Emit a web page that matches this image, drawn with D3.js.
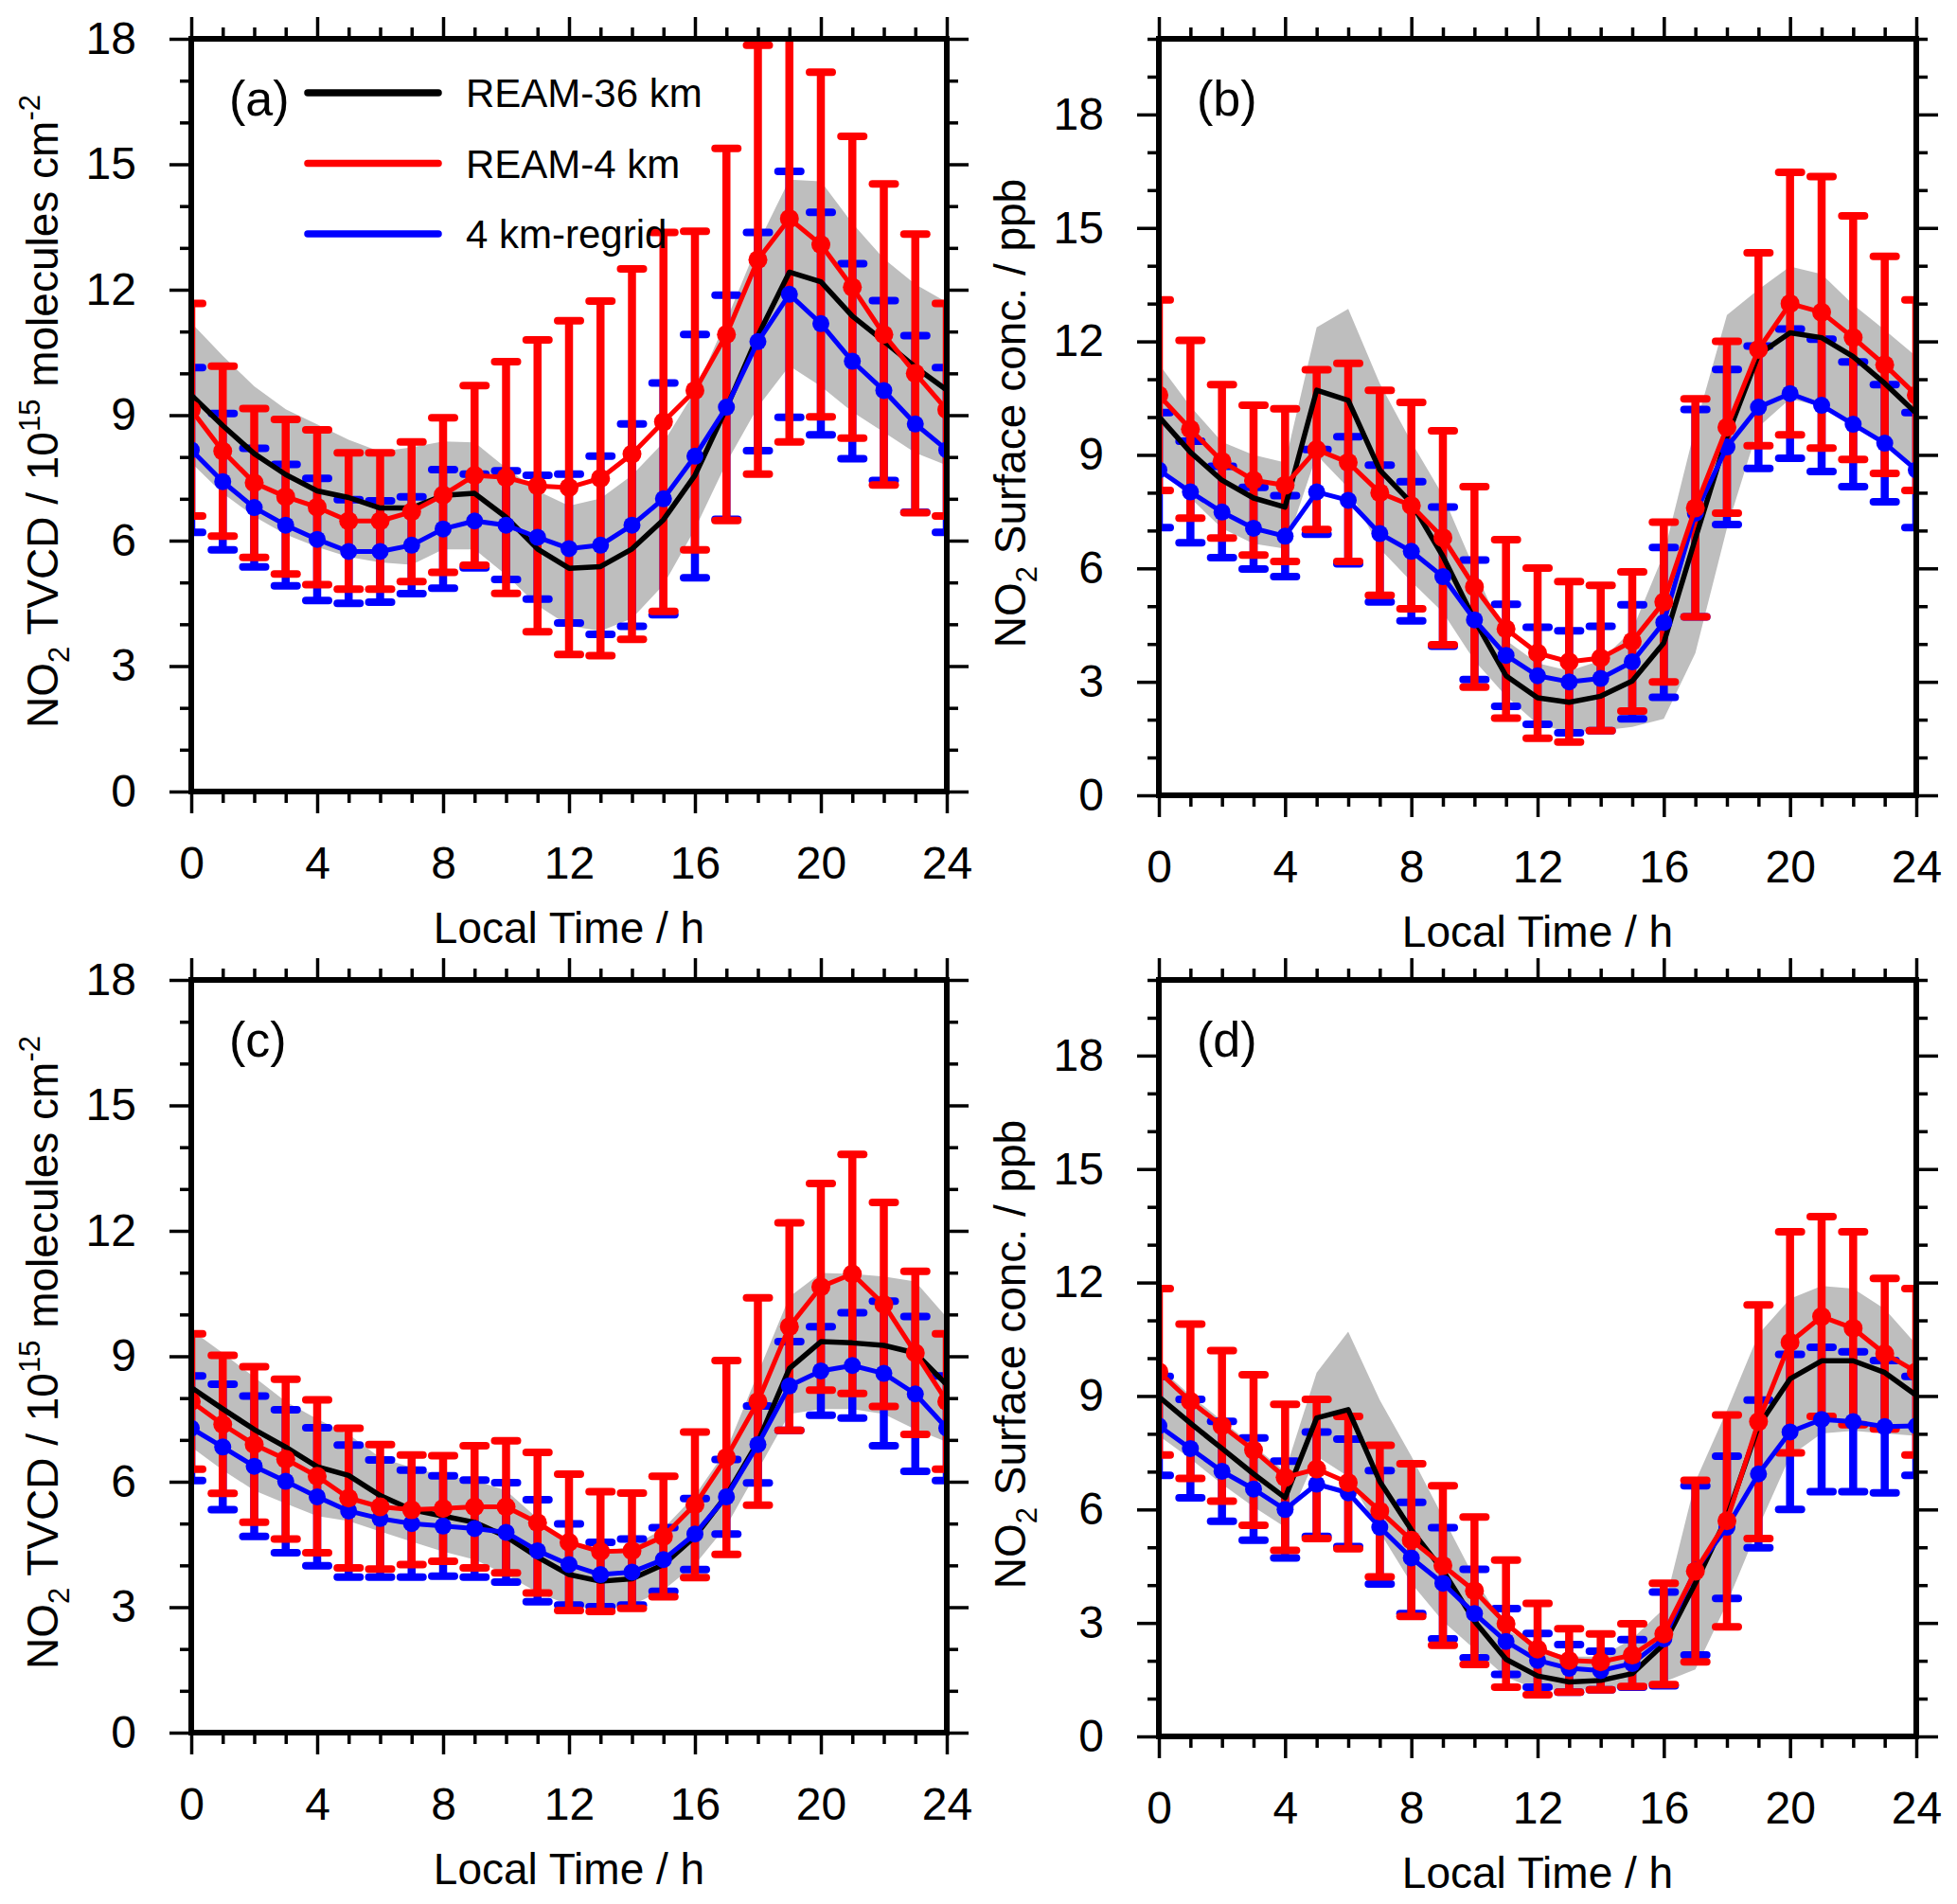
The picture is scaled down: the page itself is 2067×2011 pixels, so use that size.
<!DOCTYPE html>
<html>
<head>
<meta charset="utf-8">
<script src="https://cdn.jsdelivr.net/npm/d3@7"></script>
<style>
  body { margin: 0; background: #fff; }
  text { font-family: "Liberation Sans", Arial, Helvetica, sans-serif; fill: #000; }
</style>
</head>
<body>
<div id="chart"></div>
<script>
// ---- data (hourly, 0..24 h local time) ----
const hours = d3.range(0, 25);
const xTicks = [0, 4, 8, 12, 16, 20, 24];
const yTicks = [0, 3, 6, 9, 12, 15, 18];
const legendLabels = ["REAM-36 km", "REAM-4 km", "4 km-regrid"];
const panelLabels = ["(a)", "(b)", "(c)", "(d)"];
const xTitle = "Local Time / h";
const tvcdTitle = [["NO", 0], ["2", 1], [" TVCD / 10", 0], ["15", 2], [" molecules cm", 0], ["-2", 2]];
const surfTitle = [["NO", 0], ["2", 1], [" Surface conc. / ppb", 0]];

// (a) TVCD
const blackA  = [9.48, 8.75, 8.08, 7.58, 7.19, 7.03, 6.78, 6.78, 7.08, 7.13, 6.56, 5.8, 5.34, 5.38, 5.8, 6.5, 7.56, 9.17, 10.9, 12.42, 12.19, 11.37, 10.77, 10.15, 9.6];
const bandHiA = [11.21, 10.42, 9.69, 9.14, 8.78, 8.41, 8.13, 8.23, 8.37, 8.35, 7.74, 7.19, 6.83, 7.01, 7.56, 8.35, 9.57, 11.27, 13.1, 14.63, 14.59, 13.59, 12.74, 12.13, 11.7];
const bandLoA = [7.86, 7.13, 6.58, 6.15, 5.85, 5.61, 5.48, 5.42, 5.79, 5.79, 5.18, 4.45, 3.96, 3.84, 4.14, 4.94, 6.28, 7.86, 9.2, 10.18, 9.69, 9.08, 8.59, 8.1, 7.8];
const redA    = [9.13, 8.14, 7.38, 7.05, 6.8, 6.47, 6.47, 6.69, 7.09, 7.56, 7.51, 7.31, 7.27, 7.49, 8.07, 8.84, 9.59, 10.93, 12.72, 13.7, 13.08, 12.06, 10.93, 10.0, 9.13];
const redSdA  = [2.54, 2.03, 1.78, 1.85, 1.85, 1.63, 1.63, 1.67, 1.85, 2.15, 2.77, 3.49, 3.99, 4.24, 4.43, 4.53, 3.81, 4.45, 5.13, 5.34, 4.12, 3.61, 3.6, 3.33, 2.54];
const blueA   = [8.17, 7.41, 6.79, 6.37, 6.03, 5.74, 5.74, 5.89, 6.28, 6.47, 6.37, 6.08, 5.81, 5.89, 6.37, 7.0, 8.02, 9.19, 10.76, 11.89, 11.19, 10.29, 9.59, 8.79, 8.17];
const blueSdA = [1.97, 1.63, 1.42, 1.45, 1.46, 1.24, 1.21, 1.16, 1.42, 1.12, 1.3, 1.48, 1.78, 2.13, 2.42, 2.77, 2.91, 2.68, 2.61, 2.94, 2.66, 2.33, 2.15, 2.11, 1.97];

// (b) surface concentration
const blackB  = [10.01, 9.07, 8.33, 7.86, 7.62, 10.71, 10.44, 8.6, 7.73, 6.32, 4.64, 3.16, 2.58, 2.46, 2.62, 3.02, 4.03, 6.79, 9.48, 11.65, 12.23, 12.1, 11.6, 10.89, 10.1];
const bandHiB = [11.4, 10.28, 9.34, 9.0, 8.8, 12.37, 12.86, 10.89, 9.34, 7.93, 5.98, 4.1, 3.49, 3.29, 3.56, 4.37, 6.38, 9.74, 12.7, 13.37, 13.98, 13.78, 12.97, 12.3, 11.6];
const bandLoB = [8.67, 7.86, 7.06, 6.65, 6.52, 9.0, 8.13, 6.52, 5.65, 4.84, 3.56, 2.62, 1.88, 1.68, 1.71, 1.81, 2.02, 3.76, 7.06, 9.74, 10.48, 10.28, 9.88, 9.34, 8.67];
const redB    = [10.58, 9.68, 8.83, 8.33, 8.2, 9.14, 8.8, 8.0, 7.66, 6.81, 5.51, 4.4, 3.76, 3.53, 3.63, 4.07, 5.11, 7.6, 9.73, 11.79, 13.0, 12.77, 12.1, 11.38, 10.58];
const redSdB  = [2.52, 2.35, 2.03, 1.98, 2.02, 2.11, 2.62, 2.71, 2.73, 2.83, 2.65, 2.36, 2.25, 2.12, 1.92, 1.84, 2.11, 2.88, 2.27, 2.55, 3.47, 3.59, 3.22, 2.87, 2.52];
const blueB   = [8.6, 8.02, 7.49, 7.06, 6.85, 8.02, 7.8, 6.92, 6.45, 5.78, 4.64, 3.7, 3.16, 3.0, 3.09, 3.53, 4.57, 7.46, 9.21, 10.26, 10.62, 10.31, 9.81, 9.31, 8.6];
const blueSdB = [1.52, 1.34, 1.21, 1.08, 1.07, 1.12, 1.68, 1.81, 1.84, 1.84, 1.58, 1.35, 1.28, 1.35, 1.38, 1.51, 1.98, 2.74, 2.05, 1.62, 1.71, 1.75, 1.65, 1.55, 1.52];

// (c) TVCD
const blackC  = [8.25, 7.74, 7.25, 6.83, 6.36, 6.15, 5.67, 5.33, 5.18, 5.03, 4.69, 4.2, 3.78, 3.62, 3.68, 4.02, 4.69, 5.67, 6.95, 8.71, 9.35, 9.32, 9.26, 9.08, 8.32];
const bandHiC = [9.63, 9.08, 8.5, 7.92, 7.5, 7.13, 6.58, 6.34, 6.15, 6.03, 5.79, 5.12, 4.5, 4.33, 4.45, 4.88, 5.67, 6.76, 8.59, 10.42, 10.99, 10.97, 10.91, 10.79, 9.93];
const bandLoC = [6.83, 6.28, 5.79, 5.48, 5.18, 5.06, 4.81, 4.57, 4.33, 4.14, 3.78, 3.35, 3.05, 2.93, 3.05, 3.41, 4.02, 4.94, 6.28, 7.62, 7.74, 7.74, 7.62, 7.25, 6.95];
const redC    = [7.92, 7.37, 6.89, 6.54, 6.13, 5.61, 5.4, 5.33, 5.36, 5.4, 5.4, 5.02, 4.55, 4.33, 4.35, 4.69, 5.45, 6.58, 7.92, 9.71, 10.66, 10.97, 10.24, 9.08, 7.92];
const redSdC  = [1.62, 1.65, 1.86, 1.91, 1.83, 1.67, 1.49, 1.31, 1.26, 1.46, 1.58, 1.68, 1.63, 1.43, 1.38, 1.44, 1.74, 2.32, 2.48, 2.48, 2.47, 2.86, 2.44, 1.95, 1.62];
const blueC   = [7.28, 6.83, 6.37, 6.01, 5.64, 5.3, 5.12, 5.0, 4.94, 4.88, 4.79, 4.35, 4.02, 3.78, 3.84, 4.14, 4.75, 5.64, 6.89, 8.29, 8.65, 8.78, 8.59, 8.1, 7.28];
const blueSdC = [1.25, 1.5, 1.68, 1.71, 1.65, 1.58, 1.4, 1.28, 1.2, 1.16, 1.19, 1.22, 0.97, 0.77, 0.79, 0.76, 0.85, 0.89, 0.92, 1.06, 1.06, 1.26, 1.73, 1.85, 1.25];

// (d) surface concentration
const blackD  = [8.98, 8.28, 7.61, 6.94, 6.31, 8.42, 8.64, 6.74, 5.46, 4.39, 3.05, 2.04, 1.6, 1.44, 1.48, 1.66, 2.44, 4.05, 5.8, 8.21, 9.45, 9.93, 9.93, 9.62, 9.02];
const bandHiD = [9.76, 9.02, 8.35, 7.68, 7.01, 9.62, 10.7, 8.89, 7.41, 5.8, 4.19, 2.85, 2.31, 2.11, 2.11, 2.58, 3.38, 6.74, 8.62, 10.63, 11.57, 11.91, 11.84, 11.3, 10.36];
const bandLoD = [7.95, 7.34, 6.67, 6.07, 5.53, 7.41, 6.87, 5.4, 4.05, 3.05, 2.31, 1.57, 1.23, 1.23, 1.26, 1.3, 1.44, 1.77, 3.52, 5.53, 7.41, 8.01, 8.08, 8.01, 7.95];
const redD    = [9.64, 8.86, 8.21, 7.57, 6.85, 7.07, 6.71, 5.96, 5.19, 4.52, 3.85, 2.98, 2.31, 2.01, 1.97, 2.15, 2.71, 4.37, 5.7, 8.32, 10.42, 11.1, 10.79, 10.12, 9.64];
const redSdD  = [2.2, 2.04, 1.99, 1.99, 1.93, 1.84, 1.75, 1.74, 2.02, 2.11, 1.95, 1.68, 1.21, 0.84, 0.74, 0.83, 1.34, 2.4, 2.8, 3.09, 2.92, 2.64, 2.55, 1.99, 2.2];
const blueD   = [8.21, 7.61, 7.01, 6.54, 6.0, 6.67, 6.44, 5.53, 4.72, 4.05, 3.25, 2.51, 2.01, 1.8, 1.74, 1.93, 2.58, 4.39, 5.53, 6.94, 8.05, 8.38, 8.32, 8.19, 8.21];
const blueSdD = [1.31, 1.3, 1.32, 1.35, 1.28, 1.38, 1.42, 1.5, 1.47, 1.47, 1.17, 0.87, 0.71, 0.63, 0.51, 0.63, 1.24, 2.24, 1.88, 1.95, 2.05, 1.91, 1.85, 1.75, 1.31];

// ---- layout ----
const W = 2067, H = 2011;
const colors = { black: "#000000", red: "#ff0000", blue: "#0000ff", band: "#bebebe" };

const panels = [
  { label: panelLabels[0], left: 202,  top: 41,   width: 798, height: 795, yMax: 18, title: tvcdTitle,
    black: blackA, hi: bandHiA, lo: bandLoA, red: redA, redSd: redSdA, blue: blueA, blueSd: blueSdA, legend: true },
  { label: panelLabels[1], left: 1224, top: 41,   width: 800, height: 799, yMax: 20, title: surfTitle,
    black: blackB, hi: bandHiB, lo: bandLoB, red: redB, redSd: redSdB, blue: blueB, blueSd: blueSdB },
  { label: panelLabels[2], left: 202,  top: 1035, width: 798, height: 795, yMax: 18, title: tvcdTitle,
    black: blackC, hi: bandHiC, lo: bandLoC, red: redC, redSd: redSdC, blue: blueC, blueSd: blueSdC },
  { label: panelLabels[3], left: 1224, top: 1035, width: 800, height: 799, yMax: 20, title: surfTitle,
    black: blackD, hi: bandHiD, lo: bandLoD, red: redD, redSd: redSdD, blue: blueD, blueSd: blueSdD }
];

const svg = d3.select("#chart").append("svg")
  .attr("width", W).attr("height", H)
  .attr("viewBox", [0, 0, W, H]);

svg.append("rect").attr("width", W).attr("height", H).attr("fill", "#fff");

const styleAxis = (g, fontSize) => {
  g.select(".domain").remove();
  g.selectAll(".tick line").attr("stroke", "#000").attr("stroke-width", 3.5);
  g.selectAll(".tick text").style("font-size", fontSize + "px");
  g.attr("font-family", null).attr("font-size", null);
};

const addTitle = (g, parts, cx, cy) => {
  const t = g.append("text")
    .attr("text-anchor", "middle")
    .attr("transform", `translate(${cx},${cy}) rotate(-90)`)
    .style("font-size", "46px");
  let shift = 0;
  parts.forEach(([s, kind]) => {
    const target = kind === 1 ? 12 : kind === 2 ? -19 : 0;
    t.append("tspan")
      .attr("dy", target - shift)
      .style("font-size", kind ? "31px" : "46px")
      .text(s);
    shift = target;
  });
};

panels.forEach((p, i) => {
  const g = svg.append("g").attr("transform", `translate(${p.left},${p.top})`);

  const x = d3.scaleLinear().domain([0, 24]).range([0, p.width]);
  const y = d3.scaleLinear().domain([0, p.yMax]).range([p.height, 0]);

  const clipId = `clip-${i}`;
  g.append("clipPath").attr("id", clipId)
    .append("rect").attr("width", p.width).attr("height", p.height);

  const plot = g.append("g").attr("clip-path", `url(#${clipId})`);

  // gray band around the 36 km run
  const band = d3.area()
    .x(h => x(h))
    .y0(h => y(p.lo[h]))
    .y1(h => y(p.hi[h]));
  plot.append("path").datum(hours)
    .attr("d", band)
    .attr("fill", colors.band);

  const drawBars = (mean, sd, color) => {
    const bars = plot.append("g");
    bars.selectAll("line.bar")
      .data(hours)
      .join("line")
        .attr("class", "bar")
        .attr("x1", h => x(h)).attr("x2", h => x(h))
        .attr("y1", h => y(mean[h] - sd[h]))
        .attr("y2", h => y(mean[h] + sd[h]))
        .attr("stroke", color).attr("stroke-width", 8.5);
    const caps = hours.flatMap(h => [mean[h] - sd[h], mean[h] + sd[h]].map(v => ({ h, v })));
    bars.selectAll("line.cap")
      .data(caps)
      .join("line")
        .attr("class", "cap")
        .attr("x1", d => x(d.h) - 12).attr("x2", d => x(d.h) + 12)
        .attr("y1", d => y(d.v)).attr("y2", d => y(d.v))
        .attr("stroke", color).attr("stroke-width", 8)
        .attr("stroke-linecap", "round");
  };

  drawBars(p.blue, p.blueSd, colors.blue);
  drawBars(p.red, p.redSd, colors.red);

  const lineOf = arr => d3.line().x(h => x(h)).y(h => y(arr[h]));

  plot.append("path").datum(hours)
    .attr("d", lineOf(p.black))
    .attr("fill", "none").attr("stroke", colors.black).attr("stroke-width", 5.5)
    .attr("stroke-linejoin", "round");

  const drawSeries = (arr, color, r) => {
    plot.append("path").datum(hours)
      .attr("d", lineOf(arr))
      .attr("fill", "none").attr("stroke", color).attr("stroke-width", 5)
      .attr("stroke-linejoin", "round");
    plot.append("g").selectAll("circle")
      .data(hours)
      .join("circle")
        .attr("cx", h => x(h)).attr("cy", h => y(arr[h]))
        .attr("r", r).attr("fill", color);
  };

  drawSeries(p.blue, colors.blue, 9);
  drawSeries(p.red, colors.red, 10);

  // axes: ticks outward on all four sides
  const xMinor = hours.filter(h => h % 4 !== 0);
  const yMinor = d3.range(0, p.yMax + 1).filter(v => v % 3 !== 0);

  g.append("g").attr("transform", `translate(0,${p.height})`)
    .call(d3.axisBottom(x).tickValues(xTicks).tickSize(23).tickPadding(35).tickFormat(d3.format("d")))
    .call(a => styleAxis(a, 48));
  g.append("g").attr("transform", `translate(0,${p.height})`)
    .call(d3.axisBottom(x).tickValues(xMinor).tickSize(12).tickFormat(""))
    .call(a => styleAxis(a, 48));
  g.append("g")
    .call(d3.axisTop(x).tickValues(xTicks).tickSize(23).tickFormat(""))
    .call(a => styleAxis(a, 48));
  g.append("g")
    .call(d3.axisTop(x).tickValues(xMinor).tickSize(12).tickFormat(""))
    .call(a => styleAxis(a, 48));

  g.append("g")
    .call(d3.axisLeft(y).tickValues(yTicks).tickSize(23).tickPadding(35).tickFormat(d3.format("d")))
    .call(a => styleAxis(a, 48));
  g.append("g")
    .call(d3.axisLeft(y).tickValues(yMinor).tickSize(12).tickFormat(""))
    .call(a => styleAxis(a, 48));
  g.append("g").attr("transform", `translate(${p.width},0)`)
    .call(d3.axisRight(y).tickValues(yTicks).tickSize(23).tickFormat(""))
    .call(a => styleAxis(a, 48));
  g.append("g").attr("transform", `translate(${p.width},0)`)
    .call(d3.axisRight(y).tickValues(yMinor).tickSize(12).tickFormat(""))
    .call(a => styleAxis(a, 48));

  // frame
  g.append("rect")
    .attr("width", p.width).attr("height", p.height)
    .attr("fill", "none").attr("stroke", "#000").attr("stroke-width", 6);

  // titles
  g.append("text")
    .attr("x", p.width / 2).attr("y", p.height + 160)
    .attr("text-anchor", "middle")
    .style("font-size", "46px")
    .text(xTitle);
  addTitle(g, p.title, -141, p.height / 2 - 4);

  // panel label
  g.append("text")
    .attr("x", 40).attr("y", 81)
    .style("font-size", "52px")
    .text(p.label);

  if (p.legend) {
    const items = [colors.black, colors.red, colors.blue];
    const lg = g.append("g");
    items.forEach((c, k) => {
      const ly = 57 + k * 74.5;
      lg.append("line")
        .attr("x1", 123).attr("x2", 261)
        .attr("y1", ly).attr("y2", ly)
        .attr("stroke", c).attr("stroke-width", 7.5)
        .attr("stroke-linecap", "round");
      lg.append("text")
        .attr("x", 290).attr("y", ly)
        .attr("dy", "0.36em")
        .style("font-size", "42px")
        .text(legendLabels[k]);
    });
  }
});
</script>
</body>
</html>
